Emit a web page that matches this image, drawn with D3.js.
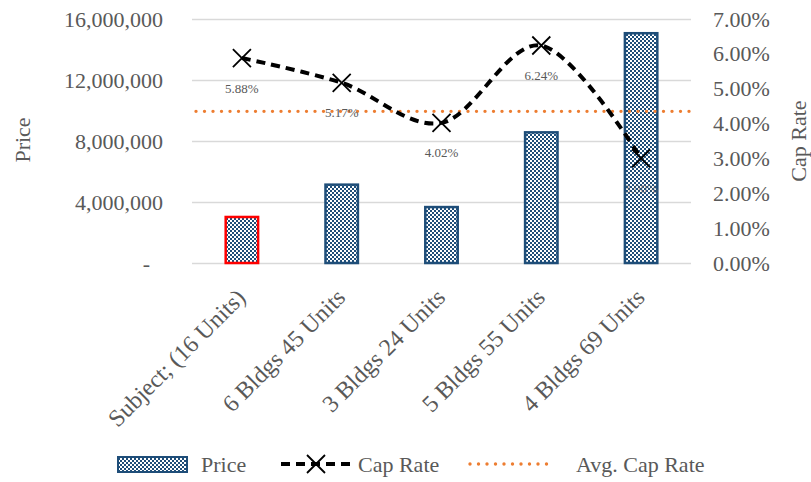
<!DOCTYPE html>
<html><head><meta charset="utf-8">
<script src="https://cdn.jsdelivr.net/npm/d3@7"></script>
<style>
body{margin:0;background:#fff}
text{font-family:"Liberation Serif","Times New Roman",serif}
</style>
</head><body>
<svg id="c" width="811" height="482"></svg>
<script>
const categories = ["Subject; (16 Units)","6 Bldgs 45 Units","3 Bldgs 24 Units","5 Bldgs 55 Units","4 Bldgs 69 Units"];
const prices = [3100000, 5220000, 3750000, 8650000, 15150000];
const capRates = [0.0588, 0.0517, 0.0402, 0.0624, 0.0300];
const capLabels = ["5.88%","5.17%","4.02%","6.24%","3.00%"];
const avgCapRate = 0.0435;
const priceTicks = [0, 4000000, 8000000, 12000000, 16000000];
const rateTicks = [0, 0.01, 0.02, 0.03, 0.04, 0.05, 0.06, 0.07];
const seriesNames = ["Price","Cap Rate","Avg. Cap Rate"];

const svg = d3.select("#c");
const L = 192, R = 691, T = 19, B = 263;
const grey = "#595959", blue = "#1F4E79";

const defs = svg.append("defs");
const pat = defs.append("pattern").attr("id","chk").attr("patternUnits","userSpaceOnUse")
  .attr("width",4).attr("height",4);
pat.append("rect").attr("width",4).attr("height",4).attr("fill","#fff");
pat.append("rect").attr("width",2).attr("height",2).attr("fill",blue);
pat.append("rect").attr("x",2).attr("y",2).attr("width",2).attr("height",2).attr("fill",blue);

const x = d3.scaleBand().domain(categories).range([L,R]).paddingInner(0.65).paddingOuter(0.325);
const yL = d3.scaleLinear().domain([0,16000000]).range([B,T]);
const yR = d3.scaleLinear().domain([0,0.07]).range([B,T]);
const cx = d => x(d) + x.bandwidth()/2;

// gridlines
const grid = svg.append("g").attr("transform",`translate(${L},0)`)
  .call(d3.axisLeft(yL).tickValues(priceTicks).tickSize(-(R-L)).tickFormat(""));
grid.select(".domain").remove();
grid.selectAll("line").attr("stroke","#D9D9D9").attr("stroke-width",1.5);

// left axis labels
const ax = svg.append("g").attr("transform",`translate(${L},0)`)
  .call(d3.axisLeft(yL).tickValues(priceTicks).tickSize(0).tickPadding(29)
    .tickFormat(d => d === 0 ? "-" : d3.format(",")(d)));
ax.select(".domain").remove();
ax.selectAll("text").attr("fill",grey).style("font-size","22px").style("font-family","Liberation Serif");
ax.selectAll("text").filter(d => d === 0).attr("x",-42);

// right axis labels
const ar = svg.append("g").attr("transform",`translate(${R},0)`)
  .call(d3.axisRight(yR).tickValues(rateTicks).tickSize(0).tickPadding(22).tickFormat(d3.format(".2%")));
ar.select(".domain").remove();
ar.selectAll("text").attr("fill",grey).style("font-size","22px").style("font-family","Liberation Serif");

// bottom labels
const ab = svg.append("g").attr("transform",`translate(0,${B})`)
  .call(d3.axisBottom(x).tickSize(0));
ab.select(".domain").remove();
ab.selectAll("text").attr("fill",grey).style("font-size","24px").style("font-family","Liberation Serif")
  .attr("text-anchor","end").attr("y",0).attr("dy",0)
  .attr("transform","translate(5,36) rotate(-45)");

// axis titles
svg.append("text").attr("transform","translate(30,140) rotate(-90)").attr("text-anchor","middle")
  .attr("fill",grey).style("font-size","22px").text("Price");
svg.append("text").attr("transform","translate(806,141) rotate(-90)").attr("text-anchor","middle")
  .attr("fill",grey).style("font-size","22px").text("Cap Rate");

// bars
svg.append("g").selectAll("rect").data(categories).join("rect")
  .attr("x", d => x(d)+1.25).attr("width", x.bandwidth()-2.5)
  .attr("y", (d,i) => yL(prices[i])+1.25).attr("height",(d,i) => B - yL(prices[i]) - 1.25)
  .attr("fill","url(#chk)")
  .attr("stroke",(d,i) => i === 0 ? "#FF0000" : blue).attr("stroke-width",2.5);

// avg line
svg.append("line").attr("x1",L+4).attr("x2",R).attr("y1",yR(avgCapRate)).attr("y2",yR(avgCapRate))
  .attr("stroke","#ED7D31").attr("stroke-width",3.4).attr("stroke-linecap","round")
  .attr("stroke-dasharray","0 8.5");

// cap rate line
const line = d3.line().x((d,i) => cx(categories[i])).y(d => yR(d)).curve(d3.curveCardinal.tension(0));
svg.append("path").datum(capRates).attr("d",line).attr("fill","none")
  .attr("stroke","#000").attr("stroke-width",4).attr("stroke-dasharray","9 6");
const xm = "M-9,-9L9,9M-9,9L9,-9";
svg.append("g").selectAll("path").data(capRates).join("path")
  .attr("transform",(d,i) => `translate(${cx(categories[i])},${yR(d)})`)
  .attr("d",xm).attr("stroke","#000").attr("stroke-width",1.8).attr("fill","none");

// data labels
svg.append("g").selectAll("text").data(capRates).join("text")
  .attr("x",(d,i) => cx(categories[i])).attr("y",d => yR(d)+30).attr("dy","0.35em")
  .attr("text-anchor","middle").attr("fill",grey).style("font-size","13px")
  .attr("opacity",(d,i) => i === 4 ? 0.55 : 1)
  .text((d,i) => capLabels[i]);

// legend
const ly = 464;
const lg = svg.append("g");
lg.append("rect").attr("x",118).attr("y",457).attr("width",69).attr("height",15)
  .attr("fill","url(#chk)").attr("stroke",blue).attr("stroke-width",2);
lg.append("text").attr("x",201).attr("y",ly).attr("dy","0.35em").attr("fill",grey)
  .style("font-size","22px").text(seriesNames[0]);
lg.append("line").attr("x1",281).attr("x2",352).attr("y1",ly).attr("y2",ly)
  .attr("stroke","#000").attr("stroke-width",4).attr("stroke-dasharray","9 6");
lg.append("path").attr("transform",`translate(316,${ly})`).attr("d",xm)
  .attr("stroke","#000").attr("stroke-width",1.8).attr("fill","none");
lg.append("text").attr("x",358).attr("y",ly).attr("dy","0.35em").attr("fill",grey)
  .style("font-size","22px").text(seriesNames[1]);
lg.append("line").attr("x1",470).attr("x2",550).attr("y1",ly).attr("y2",ly)
  .attr("stroke","#ED7D31").attr("stroke-width",3.4).attr("stroke-linecap","round")
  .attr("stroke-dasharray","0 8.5");
lg.append("text").attr("x",576).attr("y",ly).attr("dy","0.35em").attr("fill",grey)
  .style("font-size","22px").text(seriesNames[2]);
</script>
</body></html>
